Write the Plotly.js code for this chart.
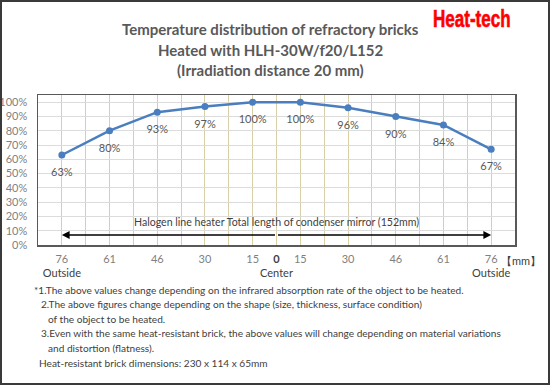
<!DOCTYPE html>
<html>
<head>
<meta charset="utf-8">
<script src="https://cdn.plot.ly/plotly-3.0.1.min.js"></script>
<style>
html,body{margin:0;padding:0;background:#fff;}
#wrap{position:relative;width:550px;height:385px;overflow:hidden;}
#chart{width:550px;height:385px;}
#frame{position:absolute;left:0;top:0;width:550px;height:385px;box-sizing:border-box;border:2px solid #3a3a3a;pointer-events:none;}
#logo{position:absolute;left:420px;top:5px;width:100px;text-align:center;font-family:'Liberation Sans','DejaVu Sans',sans-serif;font-weight:bold;font-size:23px;color:#ff0000;line-height:28px;transform:scaleX(0.74);transform-origin:center;white-space:nowrap;-webkit-text-stroke:0.6px #ff0000;}
</style>
</head>
<body>
<div id="wrap"><div id="chart"></div><div id="logo">Heat-tech</div><div id="frame"></div></div>
<script>
// ---- data ----
var positions = [0, 1, 2, 3, 4, 5, 6, 7, 8, 9];
var distanceLabels = ["76", "61", "46", "30", "15", "15", "30", "46", "61", "76"];
var temperaturePct = [63, 80, 93, 97, 100, 100, 96, 90, 84, 67];
var pointLabels = ["63%", "80%", "93%", "97%", "100%", "100%", "96%", "90%", "84%", "67%"];
var centerPos = 4.5;
var arrowLevel = 7;
var arrowTextLevel = 16;
var arrowText = "Halogen line heater Total length of condenser mirror (152mm)";
var yTicks = [0, 10, 20, 30, 40, 50, 60, 70, 80, 90, 100];
var yTickText = ["0%", "10%", "20%", "30%", "40%", "50%", "60%", "70%", "80%", "90%", "100%"];
var titleLines = [
  "Temperature distribution of refractory bricks",
  "Heated with HLH-30W/f20/L152",
  "(Irradiation distance 20 mm)"
];
var footnotes = [
  "*1.The above values change depending on the infrared absorption rate of the object to be heated.",
  "2.The above figures change depending on the shape (size, thickness, surface condition)",
  "of the object to be heated.",
  "3.Even with the same heat-resistant brick, the above values will change depending on material variations",
  "and distortion (flatness).",
  "Heat-resistant brick dimensions: 230 x 114 x 65mm"
];

// ---- layout helpers ----
var W = 550, H = 385, L = 38, R = 515, T = 95, B = 245;
function px(x){ return (x - L) / (R - L); }
function py(y){ return (B - y) / (B - T); }

var FONT = "Lato, 'Open Sans', sans-serif";
var dark = "#404040", mid = "#7f7f7f";

// tick values: every half step for grid lines
var tickvals = [], ticktext = [];
for (var i = 0; i < positions.length; i++) {
  tickvals.push(positions[i]);
  var t = distanceLabels[i];
  if (i === 0 || i === positions.length - 1) t = t + "<br><span style='color:" + dark + "'>Outside</span>";
  ticktext.push(t);
  if (i < positions.length - 1) {
    var h = (positions[i] + positions[i + 1]) / 2;
    tickvals.push(h);
    ticktext.push(h === centerPos ? "<span style='color:" + dark + "'><b>0</b></span><br><span style='color:" + dark + "'>Center</span>" : "");
  }
}

var lineTrace = {
  x: positions,
  y: temperaturePct,
  type: "scatter",
  mode: "lines+markers",
  line: {color: "#4a7ebf", width: 2.5},
  marker: {color: "#4a7ebf", size: 7},
  hoverinfo: "none",
  cliponaxis: false
};
var labelTrace = {
  x: positions,
  y: temperaturePct,
  type: "scatter",
  mode: "markers+text",
  text: pointLabels,
  textposition: "bottom center",
  textfont: {family: FONT, size: 11, color: "#595959"},
  marker: {color: "rgba(0,0,0,0)", size: 19},
  hoverinfo: "none",
  cliponaxis: false
};

var annotations = [
  {xref: "x", yref: "y", x: positions[0], y: arrowLevel, axref: "x", ayref: "y", ax: centerPos, ay: arrowLevel,
   showarrow: true, arrowhead: 2, arrowsize: 1.2, arrowwidth: 1.3, arrowcolor: "#000", text: ""},
  {xref: "x", yref: "y", x: positions[positions.length - 1], y: arrowLevel, axref: "x", ayref: "y", ax: centerPos, ay: arrowLevel,
   showarrow: true, arrowhead: 2, arrowsize: 1.2, arrowwidth: 1.3, arrowcolor: "#000", text: ""},
  {xref: "x", yref: "y", x: centerPos, y: arrowTextLevel, showarrow: false, text: arrowText,
   font: {family: FONT, size: 10.6, color: dark}},
  {xref: "paper", yref: "paper", x: px(499), y: py(260), xanchor: "left", yanchor: "middle", showarrow: false,
   text: "【mm】", font: {family: FONT, size: 11, color: dark}}
];

var titleY = [29, 49.5, 70];
for (var j = 0; j < titleLines.length; j++) {
  annotations.push({xref: "paper", yref: "paper", x: px(270), y: py(titleY[j]), xanchor: "center", yanchor: "middle",
    showarrow: false, text: titleLines[j], font: {family: FONT, size: 15, color: "#595959", weight: "bold"}});
}

var fnX = [32, 39, 46, 39, 46, 37];
var fnY = [290, 304.3, 319, 333, 348, 362.7];
for (var k = 0; k < footnotes.length; k++) {
  annotations.push({xref: "paper", yref: "paper", x: px(fnX[k]), y: py(fnY[k]), xanchor: "left", yanchor: "middle",
    showarrow: false, text: footnotes[k], font: {family: FONT, size: 10.1, color: dark}});
}

var layout = {
  width: W, height: H,
  margin: {l: L, r: W - R, t: T, b: H - B, pad: 0},
  paper_bgcolor: "#fff", plot_bgcolor: "#fff",
  showlegend: false,
  xaxis: {
    range: [-0.5, 9.5], tickmode: "array", tickvals: tickvals, ticktext: ticktext, tickangle: 0,
    showgrid: true, gridcolor: "#d8cfa6", gridwidth: 1,
    showline: true, mirror: true, linecolor: "#595959", linewidth: 1.5,
    zeroline: false, ticks: "", ticklabelstandoff: 3, tickfont: {family: FONT, size: 11, color: mid}, fixedrange: true
  },
  yaxis: {
    range: [0, 105], tickmode: "array", tickvals: yTicks, ticktext: yTickText,
    showgrid: true, gridcolor: "#dcdcdc", gridwidth: 1,
    showline: true, mirror: true, linecolor: "#595959", linewidth: 1.5,
    zeroline: false, ticks: "", ticklabelstandoff: 7, tickfont: {family: FONT, size: 11, color: mid}, fixedrange: true
  },
  annotations: annotations
};

Plotly.newPlot("chart", [lineTrace, labelTrace], layout, {staticPlot: true, displayModeBar: false});
</script>
</body>
</html>
